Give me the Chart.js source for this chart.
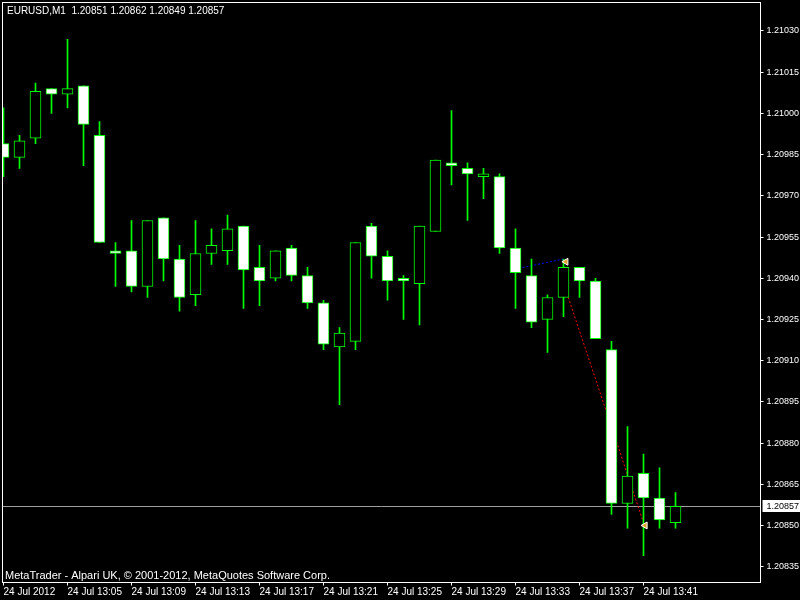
<!DOCTYPE html>
<html>
<head>
<meta charset="utf-8">
<script src="https://cdn.jsdelivr.net/npm/chart.js@4.4.1/dist/chart.umd.min.js"></script>
<style>
html, body { margin: 0; padding: 0; background: #000; }
#wrap { width: 800px; height: 600px; }
</style>
</head>
<body>
<div id="wrap"><canvas id="chart" width="800" height="600"></canvas></div>
<script>
// EURUSD M1, 24 Jul 2012, 13:01 - 13:43
var symbol = 'EURUSD,M1';
var copyright = 'MetaTrader - Alpari UK, \u00a9 2001-2012, MetaQuotes Software Corp.';

var times = ['13:01','13:02','13:03','13:04','13:05','13:06','13:07','13:08','13:09','13:10',
             '13:11','13:12','13:13','13:14','13:15','13:16','13:17','13:18','13:19','13:20',
             '13:21','13:22','13:23','13:24','13:25','13:26','13:27','13:28','13:29','13:30',
             '13:31','13:32','13:33','13:34','13:35','13:36','13:37','13:38','13:39','13:40',
             '13:41','13:42','13:43'];
var open  = [1.20989,1.20984,1.20991,1.21009,1.21007,1.21010,1.20992,1.20950,1.20950,1.20937,
             1.20962,1.20947,1.20934,1.20949,1.20950,1.20959,1.20944,1.20940,1.20951,1.20941,
             1.20931,1.20915,1.20917,1.20959,1.20948,1.20940,1.20938,1.20957,1.20982,1.20980,
             1.20977,1.20977,1.20951,1.20941,1.20925,1.20933,1.20944,1.20939,1.20914,1.20858,
             1.20869,1.20860,1.20851];
var high  = [1.21002,1.20992,1.21011,1.21009,1.21027,1.21010,1.20997,1.20953,1.20961,1.20961,
             1.20962,1.20952,1.20961,1.20958,1.20963,1.20959,1.20952,1.20950,1.20952,1.20944,
             1.20932,1.20922,1.20953,1.20960,1.20950,1.20941,1.20959,1.20983,1.21001,1.20982,
             1.20980,1.20978,1.20958,1.20947,1.20934,1.20947,1.20944,1.20940,1.20917,1.20886,
             1.20876,1.20871,1.20862];
var low   = [1.20977,1.20980,1.20989,1.21000,1.21002,1.20981,1.20953,1.20937,1.20935,1.20933,
             1.20939,1.20928,1.20930,1.20945,1.20945,1.20929,1.20930,1.20939,1.20939,1.20929,
             1.20914,1.20894,1.20914,1.20940,1.20932,1.20925,1.20923,1.20957,1.20974,1.20961,
             1.20969,1.20949,1.20929,1.20922,1.20913,1.20926,1.20933,1.20918,1.20854,1.20849,
             1.20839,1.20849,1.20849];
var close = [1.20984,1.20990,1.21008,1.21007,1.21009,1.20996,1.20953,1.20949,1.20937,1.20961,
             1.20947,1.20933,1.20949,1.20952,1.20958,1.20943,1.20939,1.20950,1.20941,1.20931,
             1.20916,1.20920,1.20953,1.20948,1.20939,1.20939,1.20959,1.20983,1.20981,1.20978,
             1.20978,1.20951,1.20942,1.20924,1.20933,1.20944,1.20939,1.20918,1.20858,1.20868,
             1.20860,1.20852,1.20857];

var yTicks = [1.20835,1.20850,1.20865,1.20880,1.20895,1.20910,1.20925,1.20940,
              1.20955,1.20970,1.20985,1.21000,1.21015,1.21030];
var xTickTimes  = ['13:01','13:05','13:09','13:13','13:17','13:21','13:25','13:29','13:33','13:37','13:41'];
var xTickLabels = ['24 Jul 2012','24 Jul 13:05','24 Jul 13:09','24 Jul 13:13','24 Jul 13:17','24 Jul 13:21',
                   '24 Jul 13:25','24 Jul 13:29','24 Jul 13:33','24 Jul 13:37','24 Jul 13:41'];

// trade history lines (bar index, price)
var buyIdx   = [31.7, 35.0];
var buyPrice = [1.20943, 1.20947];
var sellIdx   = [35.3, 40.0];
var sellPrice = [1.20933, 1.20851];
var arrowIdx   = [35.15, 40.1];
var arrowPrice = [1.20946, 1.20850];

var font = '"Liberation Sans", Arial, sans-serif';

function noPad(scale) {
    scale.paddingLeft = 0;
    scale.paddingRight = 0;
    scale.paddingTop = 0;
    scale.paddingBottom = 0;
}

var frame = {
    id: 'frame',
    beforeDatasetsDraw: function(chart) {
        var ctx = chart.ctx, a = chart.chartArea;
        var py = Math.round(chart.scales.y.getPixelForValue(close[close.length - 1])) + 0.5;
        ctx.save();
        ctx.strokeStyle = '#a0a0a0';
        ctx.lineWidth = 1;
        ctx.beginPath();
        ctx.moveTo(a.left, py);
        ctx.lineTo(a.right, py);
        ctx.stroke();
        ctx.restore();
    },
    afterDraw: function(chart) {
        var ctx = chart.ctx, a = chart.chartArea;
        var last = close.length - 1;
        ctx.save();
        ctx.strokeStyle = '#ffffff';
        ctx.lineWidth = 1;
        var l = Math.floor(a.left) + 0.5, t = Math.floor(a.top) + 0.5;
        var r = Math.floor(a.right) + 0.5, b = Math.floor(a.bottom) + 0.5;
        ctx.strokeRect(l, t, r - l, b - t);

        // last price box
        var py = Math.round(chart.scales.y.getPixelForValue(close[last]));
        ctx.fillStyle = '#ffffff';
        ctx.fillRect(r + 2, py - 6, 800 - r - 2, 12);
        ctx.fillStyle = '#000000';
        ctx.font = '9px ' + font;
        ctx.textBaseline = 'middle';
        ctx.fillText(close[last].toFixed(5), r + 6, py + 0.5);

        // header and footer
        ctx.fillStyle = '#ffffff';
        ctx.textBaseline = 'alphabetic';
        ctx.font = '10px ' + font;
        var hdr = symbol + '  ' + [open[last], high[last], low[last], close[last]].map(function(v) { return v.toFixed(5); }).join(' ');
        ctx.fillText(hdr, 7, 14);
        ctx.font = '11px ' + font;
        ctx.fillText(copyright, 5, 579);
        ctx.restore();
    }
};

var ctx = document.getElementById('chart').getContext('2d');
new Chart(ctx, {
    type: 'bar',
    data: {
        datasets: [{
            type: 'line',
            data: sellIdx.map(function(x, i) { return { x: x, y: sellPrice[i] }; }),
            borderColor: '#ff0000',
            borderWidth: 1,
            borderDash: [2, 2],
            pointRadius: 0,
            order: 3
        }, {
            type: 'line',
            data: buyIdx.map(function(x, i) { return { x: x, y: buyPrice[i] }; }),
            borderColor: '#0000ff',
            borderWidth: 1,
            borderDash: [2, 2],
            pointRadius: 0,
            order: 3
        }, {
            // wicks
            data: times.map(function(t, i) { return { x: i, y: [low[i], high[i]] }; }),
            backgroundColor: '#00ff00',
            borderWidth: 0,
            barThickness: 1,
            grouped: false,
            order: 2
        }, {
            // bodies
            data: times.map(function(t, i) { return { x: i, y: [open[i], close[i]] }; }),
            backgroundColor: times.map(function(t, i) { return close[i] > open[i] ? '#000000' : '#ffffff'; }),
            borderColor: '#00ff00',
            borderWidth: 1,
            borderSkipped: false,
            barThickness: 11,
            grouped: false,
            order: 1
        }, {
            type: 'scatter',
            data: arrowIdx.map(function(x, i) { return { x: x, y: arrowPrice[i] }; }),
            pointStyle: 'triangle',
            rotation: 270,
            pointRadius: 4,
            backgroundColor: '#e0a030',
            borderColor: '#ffffff',
            borderWidth: 1,
            order: 0
        }]
    },
    options: {
        responsive: false,
        animation: false,
        layout: { autoPadding: false, padding: { left: 2.5, top: 2.5, right: 0, bottom: 0 } },
        plugins: { legend: { display: false }, tooltip: { enabled: false } },
        scales: {
            x: {
                type: 'linear',
                offset: false,
                min: -0.0625,
                max: 47.3125,
                afterBuildTicks: function(scale) {
                    scale.ticks = xTickTimes.map(function(t) { return { value: times.indexOf(t) }; });
                },
                afterFit: function(scale) { scale.height = 17.5; noPad(scale); },
                grid: { offset: false, drawOnChartArea: false, tickLength: 3, color: '#ffffff' },
                border: { display: false },
                ticks: {
                    color: '#ffffff',
                    font: { family: font, size: 10 },
                    align: 'start',
                    maxRotation: 0,
                    autoSkip: false,
                    padding: 1,
                    callback: function(v, i) { return xTickLabels[i]; }
                }
            },
            y: {
                type: 'linear',
                position: 'right',
                min: 1.2082924,
                max: 1.2104037,
                afterBuildTicks: function(scale) {
                    scale.ticks = yTicks.map(function(v) { return { value: v }; });
                },
                afterFit: function(scale) { scale.width = 39.5; noPad(scale); },
                grid: { drawOnChartArea: false, tickLength: 3, color: '#ffffff' },
                border: { display: false },
                ticks: {
                    color: '#ffffff',
                    font: { family: font, size: 9 },
                    padding: 3,
                    autoSkip: false,
                    callback: function(v) { return v.toFixed(5); }
                }
            }
        }
    },
    plugins: [frame]
});
</script>
</body>
</html>
